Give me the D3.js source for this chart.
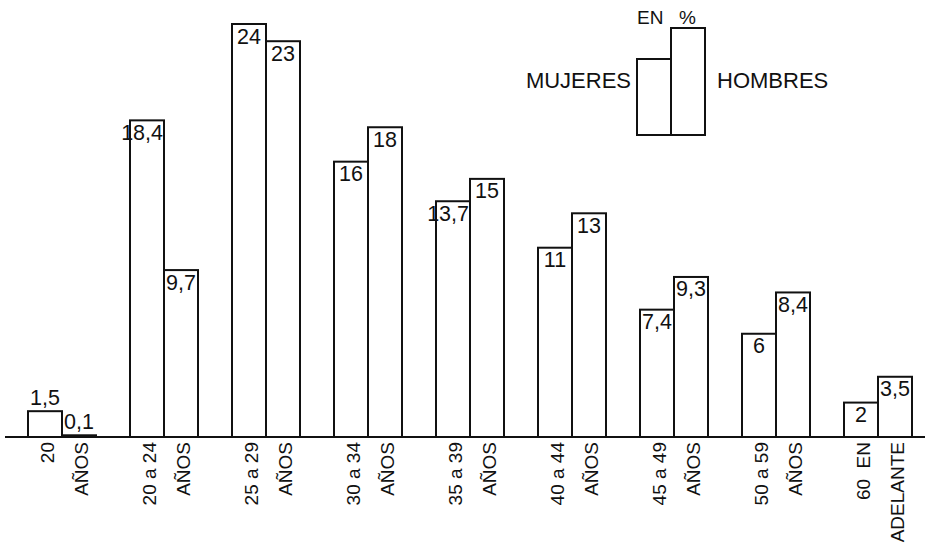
<!DOCTYPE html>
<html>
<head>
<meta charset="utf-8">
<script src="https://cdn.jsdelivr.net/npm/d3@7"></script>
<style>
  html, body { margin: 0; padding: 0; background: #fff; }
  svg { display: block; font-family: "Liberation Sans", Arial, Helvetica, sans-serif; }
</style>
</head>
<body>
<svg id="chart" width="930" height="545"></svg>
<script>
// Age groups (two-line labels under each pair of bars)
const ageTop    = ["20", "20 a 24", "25 a 29", "30 a 34", "35 a 39", "40 a 44", "45 a 49", "50 a 59", "60  EN"];
const ageBottom = ["AÑOS", "AÑOS", "AÑOS", "AÑOS", "AÑOS", "AÑOS", "AÑOS", "AÑOS", "ADELANTE"];

// Percentages by sex
const mujeres = [1.5, 18.4, 24, 16, 13.7, 11, 7.4, 6, 2];
const hombres = [0.1, 9.7, 23, 18, 15, 13, 9.3, 8.4, 3.5];

const seriesKeys = ["mujeres", "hombres"];
const legendTitle = ["EN", "%"];
const legendNames = ["MUJERES", "HOMBRES"];

const rows = ageTop.map((g, i) => ({ key: i, mujeres: mujeres[i], hombres: hombres[i] }));

const svg = d3.select("#chart");
const ink = "#111";

const x = d3.scaleBand()
  .domain(rows.map(d => d.key))
  .range([28, 912])
  .paddingInner(1 / 3)
  .paddingOuter(0);

const xs = d3.scaleBand()
  .domain(seriesKeys)
  .range([0, x.bandwidth()])
  .padding(0);

const y = d3.scaleLinear().domain([0, 24]).range([437, 24]);

const fmt = v => String(v).replace(".", ",");

// Bars
const groups = svg.append("g").selectAll("g")
  .data(rows)
  .join("g")
  .attr("transform", d => `translate(${x(d.key)},0)`);

const cells = groups.selectAll("g.cell")
  .data(d => seriesKeys.map(k => ({ k, v: d[k] })))
  .join("g")
  .attr("class", "cell");

cells.append("rect")
  .attr("x", d => xs(d.k))
  .attr("y", d => y(d.v))
  .attr("width", xs.bandwidth())
  .attr("height", d => y(0) - y(d.v))
  .attr("fill", "#fff")
  .attr("stroke", ink)
  .attr("stroke-width", 2);

// Value labels: inside the top of tall bars, above short ones
cells.append("text")
  .text(d => fmt(d.v))
  .attr("font-size", 21.5)
  .attr("fill", ink)
  .each(function (d) {
    const t = d3.select(this);
    const h = y(0) - y(d.v);
    const inside = h > 30;
    const w = this.getComputedTextLength();
    const bw = xs.bandwidth();
    if (inside && w > bw - 4) {
      t.attr("text-anchor", "end").attr("x", xs(d.k) + bw - 1);
    } else {
      t.attr("text-anchor", "middle").attr("x", xs(d.k) + bw / 2);
    }
    t.attr("y", inside ? y(d.v) + 19.5 : y(d.v) - 6);
  });

// Baseline
svg.append("line")
  .attr("x1", 5).attr("x2", 925)
  .attr("y1", y(0)).attr("y2", y(0))
  .attr("stroke", ink)
  .attr("stroke-width", 2);

// Rotated category labels
const labelRows = rows.map((d, i) => [
  { k: "mujeres", t: ageTop[i], key: d.key },
  { k: "hombres", t: ageBottom[i], key: d.key }
]).flat();

svg.append("g").selectAll("text")
  .data(labelRows)
  .join("text")
  .attr("transform", d => `translate(${x(d.key) + xs(d.k) + xs.bandwidth() / 2 + 9},${y(0) + 5}) rotate(-90)`)
  .attr("text-anchor", "end")
  .attr("font-size", 19)
  .attr("fill", ink)
  .style("white-space", "pre")
  .text(d => d.t);

// Legend
const lg = svg.append("g");
lg.append("rect").attr("x", 637).attr("y", 59).attr("width", 34).attr("height", 76)
  .attr("fill", "#fff").attr("stroke", ink).attr("stroke-width", 2);
lg.append("rect").attr("x", 671).attr("y", 28).attr("width", 34).attr("height", 107)
  .attr("fill", "#fff").attr("stroke", ink).attr("stroke-width", 2);
lg.append("text").attr("x", 637).attr("y", 24).attr("font-size", 19).attr("fill", ink)
  .text(legendTitle[0]);
lg.append("text").attr("x", 679).attr("y", 24).attr("font-size", 19).attr("fill", ink)
  .text(legendTitle[1]);
lg.append("text").attr("x", 631).attr("y", 88).attr("text-anchor", "end")
  .attr("font-size", 22).attr("fill", ink).text(legendNames[0]);
lg.append("text").attr("x", 717).attr("y", 88)
  .attr("font-size", 22).attr("fill", ink).text(legendNames[1]);
</script>
</body>
</html>
